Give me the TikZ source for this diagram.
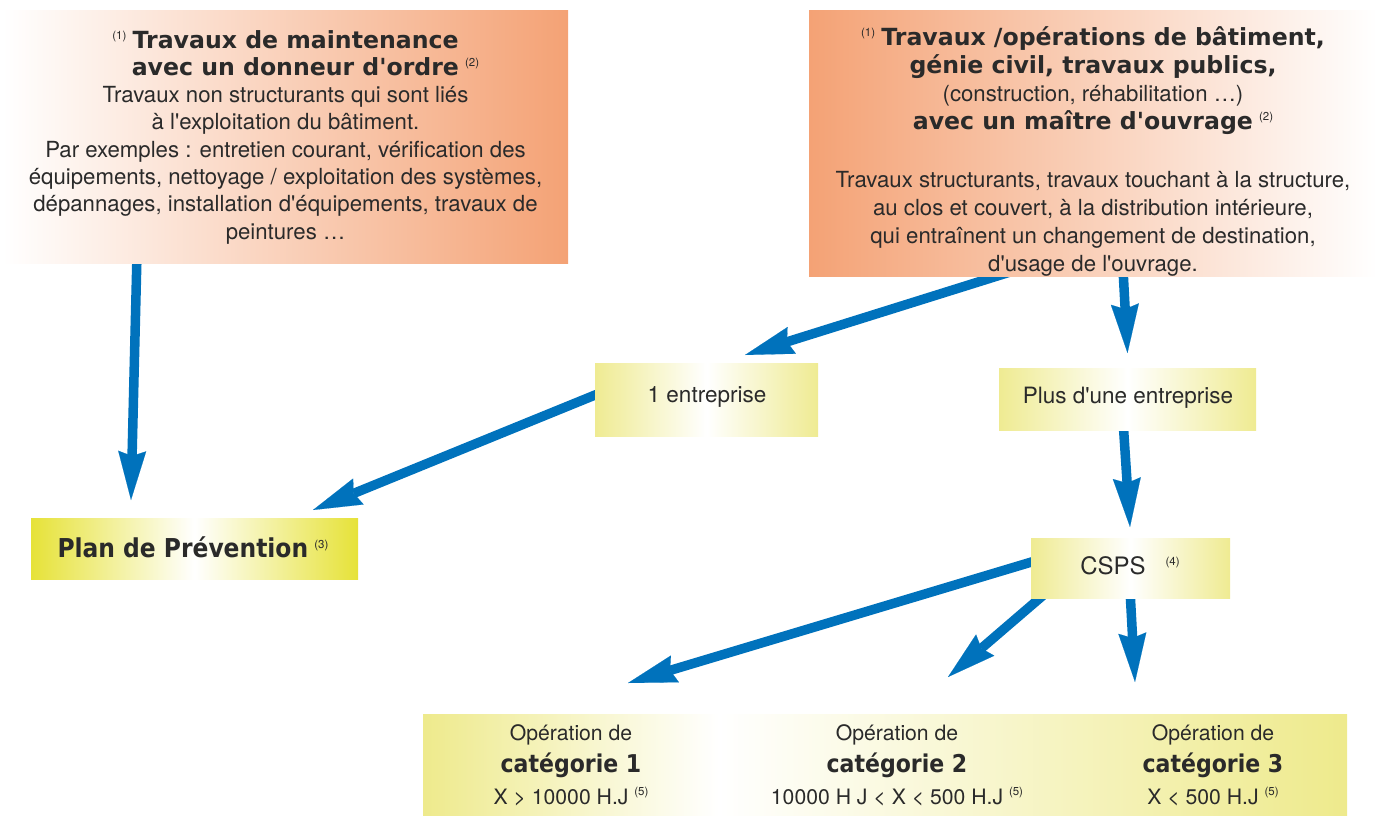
\documentclass[tikz,border=0pt]{standalone}
\usepackage{fontspec}
\setmainfont{TeX Gyre Heros}[Ligatures=TeXOff]
\newfontfamily\blk{DejaVu Sans}[Ligatures=TeXOff]
\newfontfamily\blkc{DejaVu Sans Condensed}[Ligatures=TeXOff]
\usetikzlibrary{arrows.meta,calc}
\pgfdeclarelayer{bg}
\pgfsetlayers{bg,main}
\definecolor{orangeC}{HTML}{F4A275}
\definecolor{yelP}{HTML}{EFEB92}
\definecolor{yelS}{HTML}{E6E238}
\definecolor{yelB}{HTML}{EEEA8C}
\definecolor{arrowblue}{HTML}{0072BC}
\definecolor{txt}{HTML}{2A2A2A}
\pgfdeclarehorizontalshading{yelmid}{100bp}{color(0bp)=(yelP); color(25bp)=(yelP); color(50bp)=(white); color(75bp)=(yelP); color(100bp)=(yelP)}
\pgfdeclarehorizontalshading{yelstrong}{100bp}{color(0bp)=(yelS); color(25bp)=(yelS); color(50bp)=(white); color(75bp)=(yelS); color(100bp)=(yelS)}
\pgfdeclarehorizontalshading{yelbot}{100bp}{color(0bp)=(yelB); color(25bp)=(yelB); color(41bp)=(white); color(75bp)=(yelB); color(100bp)=(yelB)}
\newcommand\tit[1]{{\blk\bfseries\fontsize{23.6}{27.3}\selectfont #1}}
\newcommand\titc[2]{{\blkc\bfseries\fontsize{#1}{27.3}\selectfont #2}}
\newcommand\sups[1]{\raisebox{9pt}{\fontsize{11.5}{11.5}\selectfont #1}}
\tikzset{
  boxA/.style={rectangle, inner sep=0pt, left color=white, right color=orangeC, draw=none},
  boxB/.style={rectangle, inner sep=0pt, left color=orangeC, right color=white, draw=none},
  ybox/.style={rectangle, inner sep=0pt, shading=yelmid, draw=none},
  ysbox/.style={rectangle, inner sep=0pt, shading=yelstrong, draw=none},
  ybbox/.style={rectangle, inner sep=0pt, shading=yelbot, draw=none},
  txtn/.style={inner sep=0pt, align=center, text=txt, font=\fontsize{22.2}{27.3}\selectfont},
  arr/.style={draw=arrowblue, line width=9.5pt,
    -{Stealth[length=49pt,width=28pt,inset=5pt,line width=0.1pt]}}
}
\begin{document}
\begin{tikzpicture}[x=1pt,y=-1pt]
\useasboundingbox (0,0) rectangle (1377,815);
% boxes
\node[boxA, minimum width=565pt, minimum height=253pt] (A) at (285.5,136.5) {};
\node[boxB, minimum width=568pt, minimum height=266pt] (B) at (1093,143) {};
\node[ybox, minimum width=223pt, minimum height=73pt] (E1) at (706.5,399.5) {};
\node[ybox, minimum width=257pt, minimum height=62pt] (E2) at (1127.5,399) {};
\node[ysbox, minimum width=327pt, minimum height=61pt] (P) at (194.5,548.5) {};
\node[ybox, minimum width=199pt, minimum height=60pt] (C) at (1130.5,568) {};
\node[ybbox, minimum width=924pt, minimum height=101pt] (K) at (885,764.5) {};
% texts
\node[txtn] (At) at (285.5,137) {%
\sups{(1)}\ \tit{Travaux de maintenance}\\
\hspace*{40pt}\tit{avec un donneur d'ordre}\ \sups{(2)}\\
Travaux non structurants qui sont liés\\
à l'exploitation du bâtiment.\\
Par exemples : entretien courant, vérification des\\
équipements, nettoyage / exploitation des systèmes,\\
dépannages, installation d'équipements, travaux de\\
peintures …};
\node[txtn, font=\fontsize{22.2}{28}\selectfont] (Bt) at (1093,151) {%
\sups{(1)}\ \tit{Travaux /opérations de bâtiment,}\\
\tit{génie civil, travaux publics,}\\
(construction, réhabilitation …)\\
\tit{avec un maître d'ouvrage}\ \sups{(2)}\\[30pt]
Travaux structurants, travaux touchant à la structure,\\
au clos et couvert, à la distribution intérieure,\\
qui entraînent un changement de destination,\\
d'usage de l'ouvrage.};
\node[txtn, font=\fontsize{22.5}{27}\selectfont] (E1t) at (707,397) {1 entreprise};
\node[txtn, font=\fontsize{22.5}{27}\selectfont] (E2t) at (1128,398) {Plus d'une entreprise};
\node[txtn] (Pt) at (193,547) {\titc{26}{Plan de Prévention}\ \sups{(3)}};
\node[txtn, font=\fontsize{24}{27}\selectfont] (Ct) at (1130,566) {CSPS\hspace{20pt}\sups{(4)}};
\node[txtn, font=\fontsize{21.2}{32}\selectfont] (K1) at (571,765) {Opération de\\ \titc{24.5}{catégorie 1}\\ X > 10000 H.J \sups{(5)}};
\node[txtn, font=\fontsize{21.2}{32}\selectfont] (K2) at (897,765) {Opération de\\ \titc{24.5}{catégorie 2}\\ 10000 H J < X < 500 H.J \sups{(5)}};
\node[txtn, font=\fontsize{21.2}{32}\selectfont] (K3) at (1213,765) {Opération de\\ \titc{24.5}{catégorie 3}\\ X < 500 H.J \sups{(5)}};
% arrow tips
\coordinate (t1) at (131,500);
\coordinate (t2) at (745,355);
\coordinate (t3) at (1127.5,353);
\coordinate (t4) at (313,510);
\coordinate (t5) at (1130,527);
\coordinate (t6) at (628,683);
\coordinate (t7) at (948,677);
\coordinate (t8) at (1135,682);
\begin{pgfonlayer}{bg}
\draw[arr] ($(A.south west)+(134.3,-13)$) -- (t1);
\draw[arr] ($(B.south west)+(207,-6)$) -- (t2);
\draw[arr] ($(B.south west)+(314,-11)$) -- (t3);
\draw[arr] ($(E1.west)+(15,-10.5)$) -- (t4);
\draw[arr] ($(E2.south)+(-4.5,-10)$) -- (t5);
\draw[arr] ($(C.west)+(14,-10)$) -- (t6);
\draw[arr] ($(C.south west)+(20,-9.5)$) -- (t7);
\draw[arr] ($(C.south)+(-0.5,-8)$) -- (t8);
\end{pgfonlayer}
\end{tikzpicture}
\end{document}
